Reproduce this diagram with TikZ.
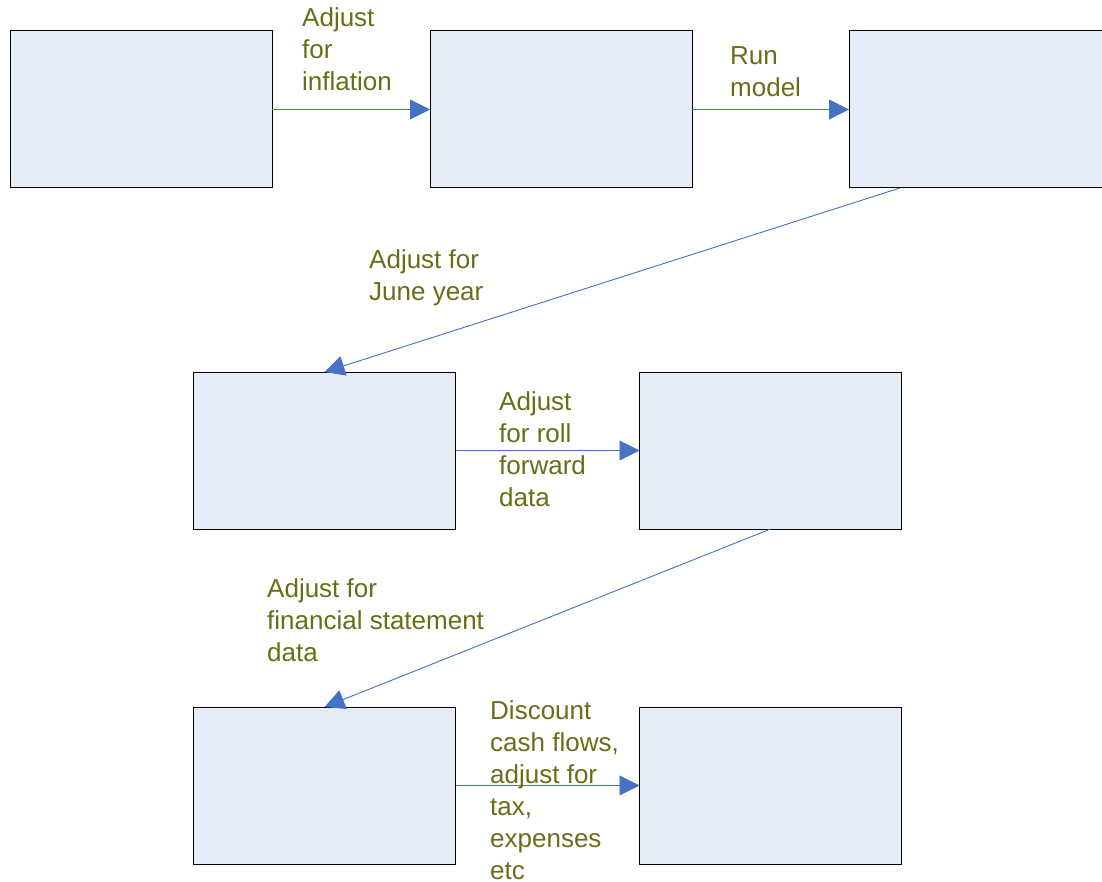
\documentclass[tikz,border=0pt]{standalone}
\usepackage{fontspec}
\setmainfont{Liberation Sans}
\usetikzlibrary{arrows.meta}
\definecolor{boxfill}{RGB}{230,236,247}
\definecolor{arrowblue}{RGB}{68,114,196}
\definecolor{labelolive}{RGB}{108,108,24}
\tikzset{
  stagebox/.style={draw=black, line width=1pt, fill=boxfill, minimum width=262pt, minimum height=157pt, inner sep=0pt, outer sep=0pt},
  flow/.style={draw=arrowblue, line width=0.9pt, -{Triangle[length=20pt,width=20pt]}},
  lbl/.style={anchor=north west, inner sep=0pt, align=left, text=labelolive, font=\fontsize{26}{32}\selectfont}
}
\begin{document}
\begin{tikzpicture}[x=1pt,y=-1pt]
\useasboundingbox (0,0) rectangle (1102,882);
\clip (0,0) rectangle (1102,882);
\node[stagebox] (b1) at (141,109.5) {};
\node[stagebox] (b2) at (561,109.5) {};
\node[stagebox] (b3) at (980,109.5) {};
\node[stagebox] (b4) at (324.5,450.5) {};
\node[stagebox] (b5) at (770.5,450.5) {};
\node[stagebox] (b6) at (324.5,785.5) {};
\node[stagebox] (b7) at (770.5,785.5) {};

\draw[flow] (b1.east) -- (b2.west);
\draw[flow] (b2.east) -- (b3.west);
\draw[flow] ([xshift=51pt]b3.south west) -- (b4.north);
\draw[flow] (b4.east) -- (b5.west);
\draw[flow] (b5.south) -- (b6.north);
\draw[flow] (b6.east) -- (b7.west);

\node[lbl] (t1) at (302,3.6) {\strut Adjust\\for\\inflation};
\node[lbl] (t2) at (730,41.6) {\strut Run\\model};
\node[lbl] (t3) at (369,245.6) {\strut Adjust for\\June year};
\node[lbl] (t4) at (499,387.6) {\strut Adjust\\for roll\\forward\\data};
\node[lbl] (t5) at (267,574.6) {\strut Adjust for\\financial statement\\data};
\node[lbl] (t6) at (490,696.6) {\strut Discount\\cash flows,\\adjust for\\tax,\\expenses\\etc};
\end{tikzpicture}
\end{document}
